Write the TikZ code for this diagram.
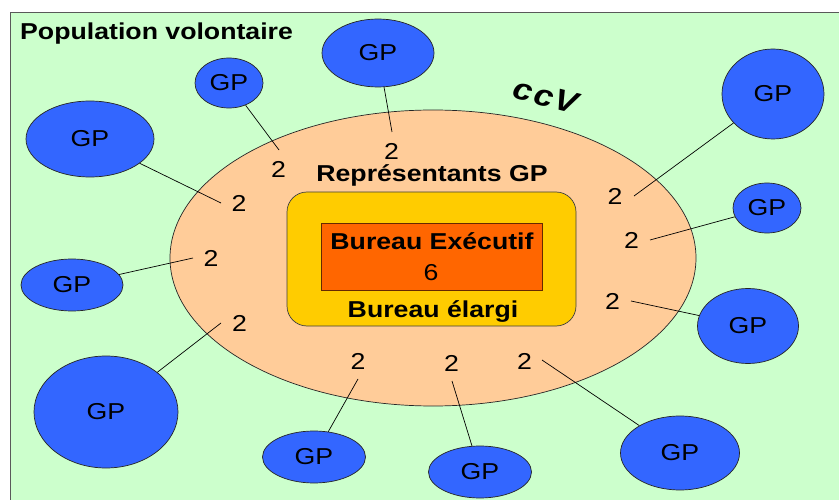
\documentclass[tikz,border=0pt]{standalone}
\usepackage{xcolor}
\usepackage{fontspec}
\setmainfont[FakeStretch=1.16]{Liberation Sans}
\usepackage{tikz}
\usetikzlibrary{shapes.geometric}

\definecolor{vertpop}{HTML}{CCFFCC}
\definecolor{pecheccv}{HTML}{FFCC99}
\definecolor{jauneel}{HTML}{FFCC00}
\definecolor{orangebe}{HTML}{FF6600}
\definecolor{bleugp}{HTML}{3366FF}

\tikzset{
  gp/.style={ellipse, draw=black!85, fill=bleugp, inner sep=0pt, line width=0.7pt,
    font=\fontsize{23}{23}\selectfont},
  nb/.style={inner sep=0pt, font=\fontsize{23}{23}\selectfont},
  titre/.style={inner sep=0pt, font=\bfseries\fontsize{23}{23}\selectfont},
  lien/.style={line width=0.7pt}
}

\begin{document}
\begin{tikzpicture}[x=1pt, y=-1pt]
      \useasboundingbox (0,0) rectangle (839,500);
      \draw[gray!70!black, fill=vertpop, line width=1pt] (10,13) rectangle (850,510);
      \node[titre, anchor=base west] (pop) at (20,40) {Population volontaire};

      % le CCV
      \node[ellipse, draw=black!85, fill=pecheccv, line width=0.7pt,
        minimum width=526pt, minimum height=296pt] (ccv) at (433,258) {};
      \node[rotate=-14, inner sep=0pt,
        font=\bfseries\itshape\fontsize{30}{30}\selectfont\addfontfeatures{LetterSpace=6}]
        (sigle) at (546,96) {ccV};
      \node[titre, anchor=base] (repr) at (432,182) {Représentants GP};

      % les bureaux
      \node[draw=black!75, fill=jauneel, rounded corners=20pt, line width=0.7pt,
        minimum width=289pt, minimum height=134pt] (elargi) at (431.5,259) {};
      \node[draw=black!60!orangebe, fill=orangebe, line width=0.8pt,
        minimum width=221pt, minimum height=67pt] (exec) at (431.5,256.5) {};
      \node[titre, anchor=base] (bex) at (432,250) {Bureau Exécutif};
      \node[nb, anchor=base] (six) at (431,280) {6};
      \node[titre, anchor=base] (bel) at (433,317) {Bureau élargi};

      % les GP
      \node[gp, minimum width=68pt,  minimum height=50pt]  (g1)  at (229,83)  {GP};
      \node[gp, minimum width=112pt, minimum height=68pt]  (g2)  at (378,53)  {GP};
      \node[gp, minimum width=128pt, minimum height=76pt]  (g3)  at (90,139)  {GP};
      \node[gp, minimum width=102pt, minimum height=90pt]  (g4)  at (773,94)  {GP};
      \node[gp, minimum width=68pt,  minimum height=50pt]  (g5)  at (767,208) {GP};
      \node[gp, minimum width=102pt, minimum height=52pt]  (g6)  at (72,285)  {GP};
      \node[gp, minimum width=144pt, minimum height=112pt] (g7)  at (106,412) {GP};
      \node[gp, minimum width=103pt, minimum height=52pt]  (g8)  at (314,457) {GP};
      \node[gp, minimum width=103pt, minimum height=52pt]  (g9)  at (480,472) {GP};
      \node[gp, minimum width=119pt, minimum height=74pt]  (g10) at (680,453) {GP};
      \node[gp, minimum width=101pt, minimum height=75pt]  (g11) at (748,326) {GP};

      % les representants
      \node[nb] (n1)  at (278.5,169.5) {2};
      \node[nb] (n2)  at (391.5,151.5) {2};
      \node[nb] (n3)  at (239,203.5)   {2};
      \node[nb] (n4)  at (615,196.5)   {2};
      \node[nb] (n5)  at (631.5,240)   {2};
      \node[nb] (n6)  at (211,258.5)   {2};
      \node[nb] (n7)  at (239.5,323.5) {2};
      \node[nb] (n8)  at (358,361)     {2};
      \node[nb] (n9)  at (451.5,363.5) {2};
      \node[nb] (n10) at (524.5,361)   {2};
      \node[nb] (n11) at (612.5,301)   {2};

      \coordinate (e1)  at (279,150);
      \coordinate (e2)  at (392,132);
      \coordinate (e3)  at (221,203);
      \coordinate (e4)  at (634,196);
      \coordinate (e5)  at (650,240);
      \coordinate (e6)  at (193,258);
      \coordinate (e7)  at (221,323);
      \coordinate (e8)  at (358,379);
      \coordinate (e9)  at (452,381);
      \coordinate (e10) at (542,360);
      \coordinate (e11) at (631,301);

      \draw[lien] (g1) -- (e1) (g2) -- (e2) (g3) -- (e3) (g4) -- (e4)
        (g5) -- (e5) (g6) -- (e6) (g7) -- (e7) (g8) -- (e8)
        (g9) -- (e9) (g10) -- (e10) (g11) -- (e11);
    \end{tikzpicture}
\end{document}
